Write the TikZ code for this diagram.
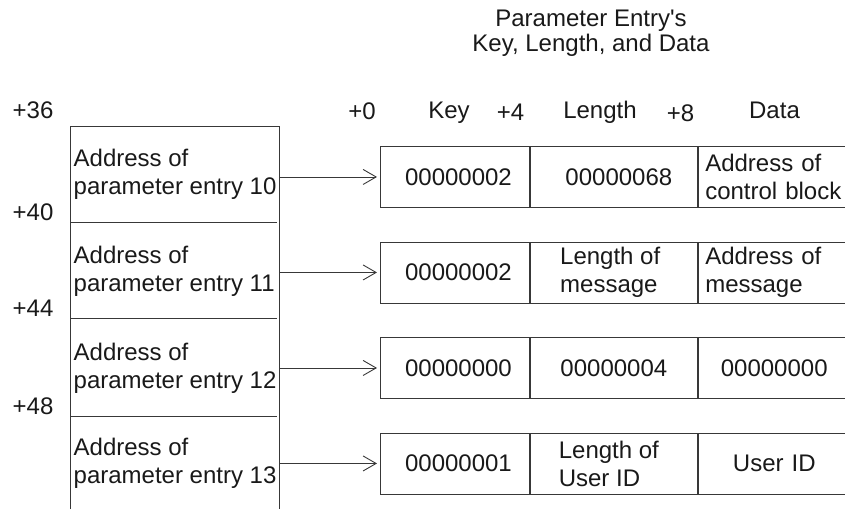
\documentclass[tikz,border=0pt]{standalone}
\usepackage{fontspec}
\setmainfont{Liberation Sans}
\usetikzlibrary{arrows.meta}
\begin{document}
\begin{tikzpicture}[x=1pt,y=-1pt,
  every node/.style={font=\fontsize{24}{28}\selectfont, text=black!90, inner sep=0pt},
  rule/.style={draw=black!78, line width=0.9pt},
  cell/.style={rule, minimum height=61pt, anchor=north west, inner sep=0pt},
  keycell/.style={cell, minimum width=149pt, execute at begin node=\hspace*{7pt}},
  lencell/.style={cell, minimum width=167pt, align=left},
  datacell/.style={cell, text width=138pt, inner xsep=7pt},
  addr/.style={anchor=west, align=left},
  offs/.style={anchor=base},
  ptr/.style={rule, -{Straight Barb[length=13pt,width=15pt]}, shorten >=3pt}
]
% page frame; the data column runs off the right edge
\clip (0,0) rectangle (845,509);

% title
\node[anchor=north, align=center, font=\fontsize{24}{25}\selectfont] (title) at (591,9.8)
  {Parameter Entry\textquotesingle s\\Key, Length, and Data};

% offsets into the parameter list
\node[offs] (o36) at (33,118) {+36};
\node[offs] (o40) at (33,220.7) {+40};
\node[offs] (o44) at (33,316.7) {+44};
\node[offs] (o48) at (33,414) {+48};

% offsets and field names of a parameter entry
\node[offs] (h0) at (362,119) {+0};
\node[offs] (hkey) at (449,118) {Key};
\node[offs] (h4) at (510.5,120) {+4};
\node[offs] (hlen) at (600,118) {Length};
\node[offs] (h8) at (680.5,121) {+8};
\node[offs] (hdata) at (774.5,118) {Data};

% parameter list column (open at the bottom)
\draw[rule] (70,509) -- (70,126) -- (279,126) -- (279,509);
\draw[rule] (70,222) -- (277,222);
\draw[rule] (70,318) -- (277,318);
\draw[rule] (70,416) -- (277,416);
\coordinate (colR) at (279,0);

\node[addr] (a10) at (73.5,174.5) {Address of\\parameter entry 10};
\node[addr] (a11) at (73.5,271) {Address of\\parameter entry 11};
\node[addr] (a12) at (73.5,368.5) {Address of\\parameter entry 12};
\node[addr] (a13) at (73.5,463.5) {Address of\\parameter entry 13};

% parameter entries
\node[keycell] (k1) at (380,146) {00000002};
\node[lencell] (l1) at (k1.north east) {\hspace*{10pt}00000068};
\node[datacell, align=left] (d1) at (l1.north east) {Address of\\control block};

\node[keycell] (k2) at (380,241.5) {00000002};
\node[lencell] (l2) at (k2.north east) {Length of\\message\hspace*{10pt}};
\node[datacell, align=left] (d2) at (l2.north east) {Address of\\message};

\node[keycell] (k3) at (380,337) {00000000};
\node[lencell] (l3) at (k3.north east) {00000004};
\node[datacell, align=center] (d3) at (l3.north east) {00000000};

\node[keycell] (k4) at (380,432.5) {00000001};
\node[lencell] (l4) at (k4.north east) {Length of\hspace*{10pt}\\User ID};
\node[datacell, align=center] (d4) at (l4.north east) {User ID};

% pointers from the list to the entries
\draw[ptr] (colR |- k1.west) -- (k1.west);
\draw[ptr] (colR |- k2.west) -- (k2.west);
\draw[ptr] (colR |- k3.west) -- (k3.west);
\draw[ptr] (colR |- k4.west) -- (k4.west);
\end{tikzpicture}
\end{document}
